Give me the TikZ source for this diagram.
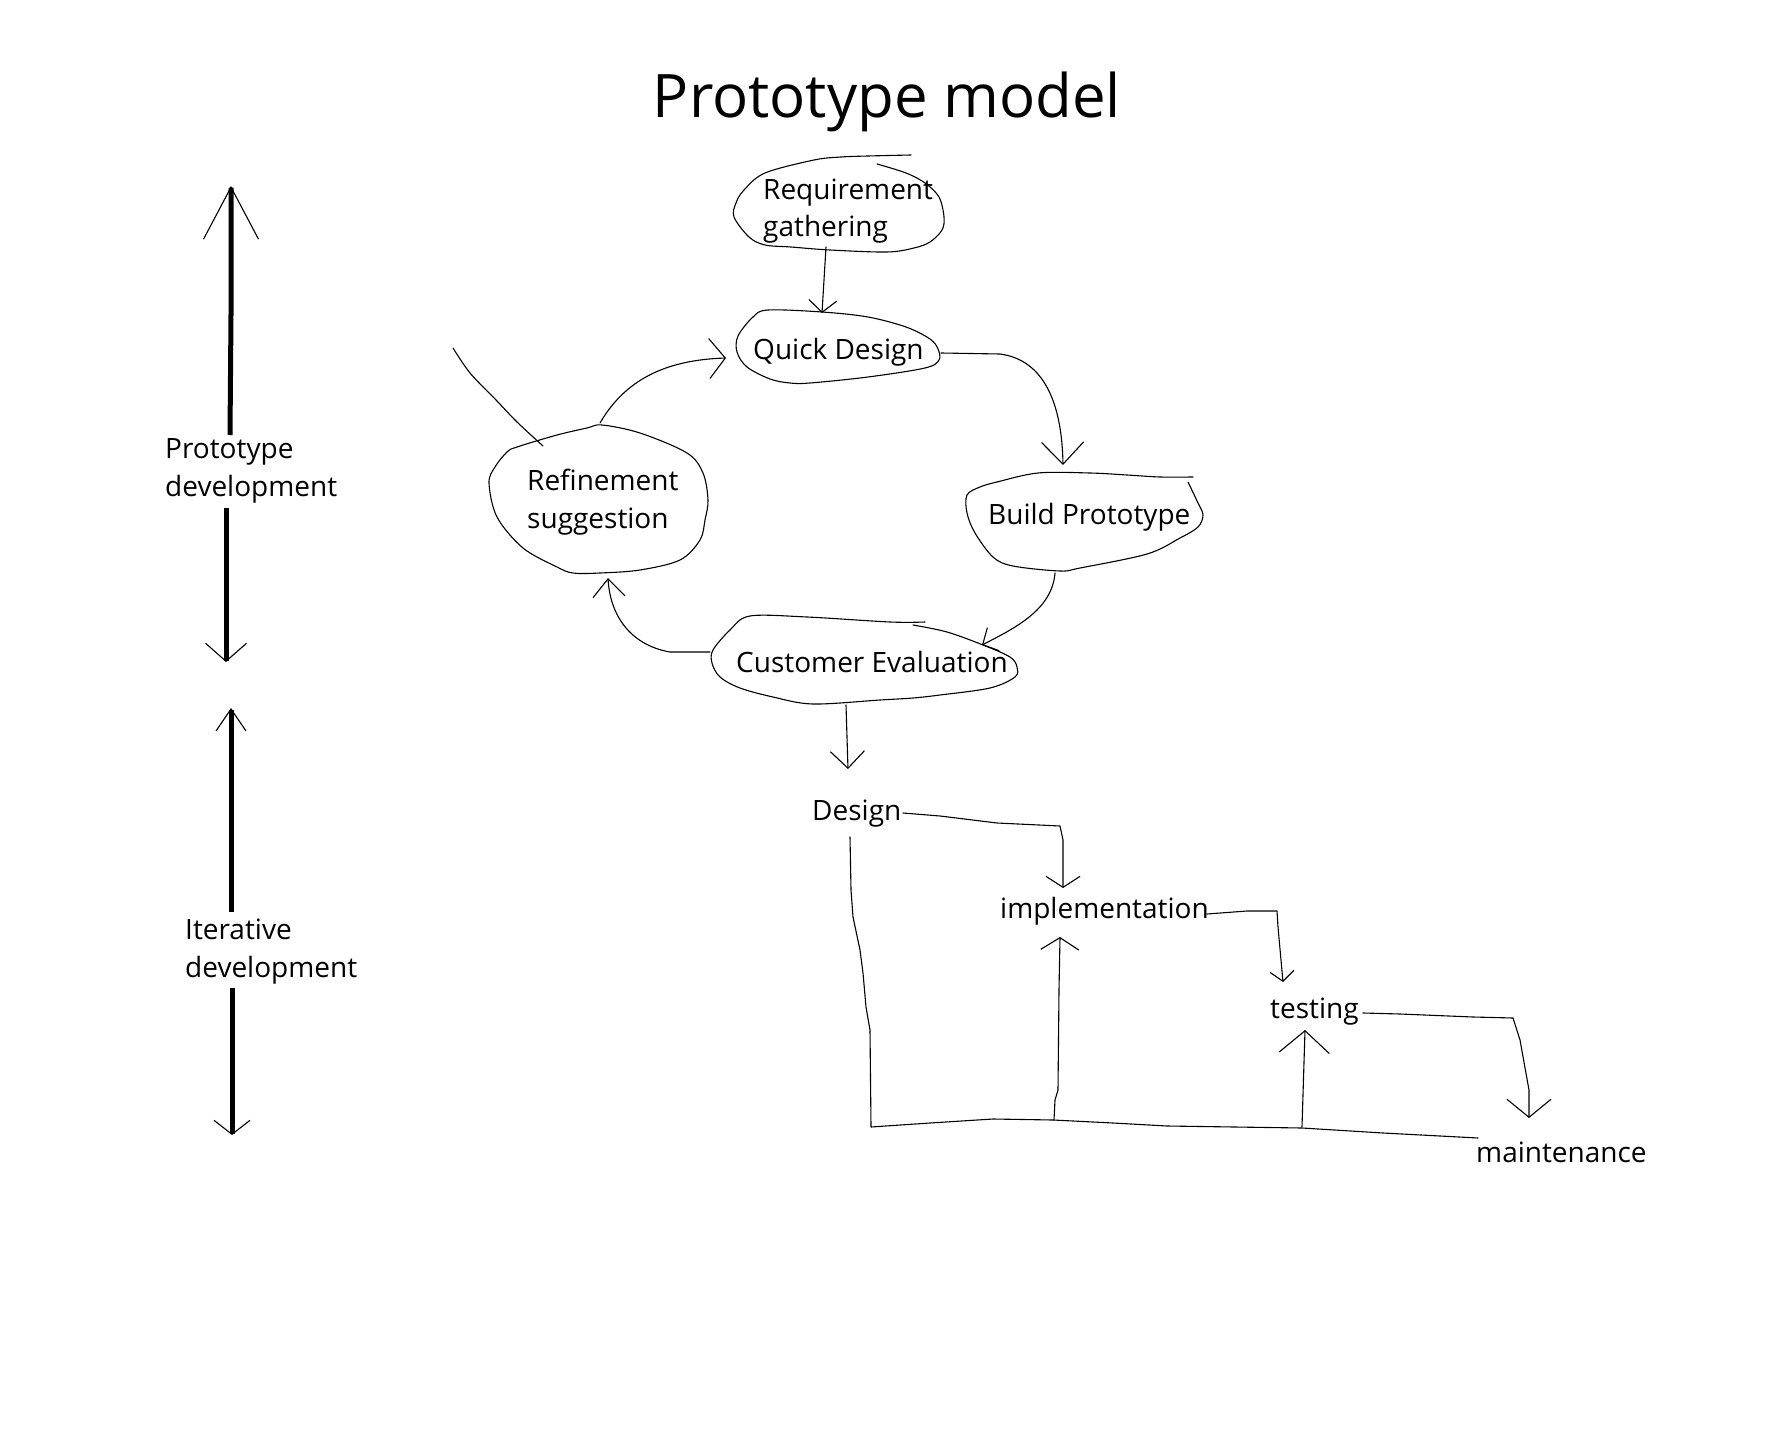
\documentclass[tikz,border=0pt]{standalone}
\usepackage{fontspec}
\setmainfont{Open Sans}
\usetikzlibrary{arrows.meta}
\begin{document}
\begin{tikzpicture}[x=1pt,y=-1pt,
  lbl/.style={font=\fontsize{28}{37.5}\selectfont, inner sep=0pt, anchor=base west, align=left},
  ttl/.style={font=\fontsize{60}{72}\selectfont, inner sep=0pt, anchor=base},
  pen/.style={line width=1.1pt, line join=round, line cap=round},
  heavy/.style={line width=5pt},
  hd/.style 2 args={-{Straight Barb[length=#1pt,width=#2pt,line width=1.1pt]}},
  ]
\useasboundingbox (0,0) rectangle (1789,1442);
\fill[white] (0,0) rectangle (1789,1442);

% ---------- texts (two-line nodes: base = baseline of the last line) ----------
\node[ttl] (title) at (887,118) {Prototype model};
\node[lbl] (req) at (763,237) {Requirement\\gathering};
\node[lbl] (qd) at (753,359) {Quick Design};
\node[lbl] (bp) at (988,524) {Build Prototype};
\node[lbl] (ce) at (736,672) {Customer Evaluation};
\node[lbl] (rs) at (527,528) {Refinement\\suggestion};
\node[lbl] (des) at (812,820) {Design};
\node[lbl] (imp) at (1000,918) {implementation};
\node[lbl] (tst) at (1270,1018) {testing};
\node[lbl] (mnt) at (1476,1162) {maintenance};
\node[lbl] (pdev) at (165,496) {Prototype\\development};
\node[lbl] (idev) at (185,977) {Iterative\\development};

% ---------- blobs ----------
\draw[pen] plot[smooth, tension=0.55] coordinates {(877,164) (906,173) (925,183) (939,197) (944,217) (942,230) (930,242) (914,248) (887,252) (830,250) (791,247) (765,245) (749,237) (734,217) (736,203) (744,190) (765,173) (814,160) (841,157) (868,156) (911,155)};
\draw[pen] plot[smooth cycle, tension=0.55] coordinates {(768,310) (822,312) (868,317) (906,327) (930,339) (938,349) (939,360) (925,368) (868,377) (810,383) (790,383) (770,379) (747,367) (737,352) (738,336) (753,317)};
\draw[pen] plot[smooth, tension=0.55] coordinates {(1188,482) (1198,503) (1203,515) (1198,527) (1180,538) (1147,554) (1080,568) (1060,571) (1013,566) (993,557) (975,533) (967,513) (967,495) (980,487) (997,482) (1038,473) (1090,473) (1127,475) (1160,477) (1193,477)};
\draw[pen] plot[smooth, tension=0.55] coordinates {(913,625) (947,632) (983,645) (1010,657) (1017,667) (1015,677) (990,688) (940,695) (913,698) (880,700) (813,704) (773,697) (740,688) (720,677) (712,663) (713,650) (730,630) (750,616) (807,617) (890,622) (925,622)};
\draw[pen] plot[smooth cycle, tension=0.55] coordinates {(602,425) (640,433) (687,453) (703,473) (708,500) (705,520) (700,540) (680,560) (640,570) (600,573) (573,573) (557,567) (523,548) (497,517) (489,483) (495,467) (507,452) (517,447) (557,435) (587,428)};

% ---------- connector end points ----------
\coordinate (req-out) at (826,247);
\coordinate (qd-in) at (822,313);
\coordinate (qd-out) at (941,353);
\coordinate (bp-in) at (1063,465);
\coordinate (bp-out) at (1055,573);
\coordinate (ce-in) at (982,645);
\coordinate (ce-out) at (710,652);
\coordinate (rs-in) at (608,578);
\coordinate (rs-out) at (600,423);
\coordinate (qd-in2) at (726,358);
\coordinate (stray-a) at (453,348);
\coordinate (stray-b) at (543,446);
\coordinate (ce-down) at (846,705);
\coordinate (des-in) at (848,769);
\coordinate (des-out) at (903,813);
\coordinate (imp-in) at (1063,888);
\coordinate (imp-out) at (1207,914);
\coordinate (tst-in) at (1283,982);
\coordinate (tst-out) at (1363,1013);
\coordinate (mnt-in) at (1529,1118);
\coordinate (des-down) at (850,837);
\coordinate (mnt-fb) at (1478,1138);
\coordinate (fb-imp) at (1054,1120);
\coordinate (imp-fb) at (1060,937);
\coordinate (fb-tst) at (1302,1127);
\coordinate (tst-fb) at (1305,1030);
\coordinate (pd-a) at (230,435);
\coordinate (pd-top) at (231,186);
\coordinate (pd-b) at (226,508);
\coordinate (pd-bot) at (226,662);
\coordinate (id-a) at (231,912);
\coordinate (id-top) at (231,708);
\coordinate (id-b) at (232,988);
\coordinate (id-bot) at (232,1135);

% ---------- prototype loop ----------
\draw[pen, hd={12}{28}] (req-out) -- (qd-in);
\draw[pen, hd={22}{42}] (qd-out) -- (1000,354) .. controls (1045,360) and (1062,405) .. (bp-in);
\draw[pen, hd={12}{26}] (bp-out) .. controls (1052,610) and (1015,628) .. (ce-in);
\draw[pen, hd={18}{32}] (ce-out) -- (670,652) .. controls (630,645) and (610,615) .. (rs-in);
\draw[pen, hd={16}{40}] (rs-out) .. controls (625,380) and (665,360) .. (qd-in2);
\draw[pen] plot[smooth] coordinates {(stray-a) (470,373) (497,401) (517,422) (stray-b)};

% ---------- iterative part ----------
\draw[pen, hd={17}{34}] (ce-down) -- (des-in);
\draw[pen, hd={11}{34}] (des-out) -- (940,816) -- (997,823) -- (1060,826) -- (1063,840) -- (imp-in);
\draw[pen, hd={10}{24}] (imp-out) -- (1247,911) -- (1277,911) -- (1278,927) -- (tst-in);
\draw[pen, hd={18}{44}] (tst-out) -- (1400,1014) -- (1473,1017) -- (1513,1018) -- (1520,1040) -- (1529,1090) -- (mnt-in);
\draw[pen] (des-down) -- (851,890) -- (853,917) -- (860,950) -- (863,973) -- (866,1007) -- (870,1030) -- (871,1127) -- (930,1123) -- (993,1119) -- (1053,1120) -- (1113,1123) -- (1167,1126) -- (1302,1128) -- (1383,1133) -- (mnt-fb);
\draw[pen, hd={12}{38}] (fb-imp) -- (1055,1100) -- (1058,1090) -- (1059,990) -- (imp-fb);
\draw[pen, hd={22}{50}] (fb-tst) -- (tst-fb);

% ---------- left double arrows ----------
\draw[heavy, hd={52}{55}] (pd-a) -- (231,315) -- (pd-top);
\draw[heavy, hd={18}{41}] (pd-b) -- (pd-bot);
\draw[heavy, hd={22}{30}] (id-a) -- (id-top);
\draw[heavy, hd={14}{36}] (id-b) -- (id-bot);
\end{tikzpicture}
\end{document}
